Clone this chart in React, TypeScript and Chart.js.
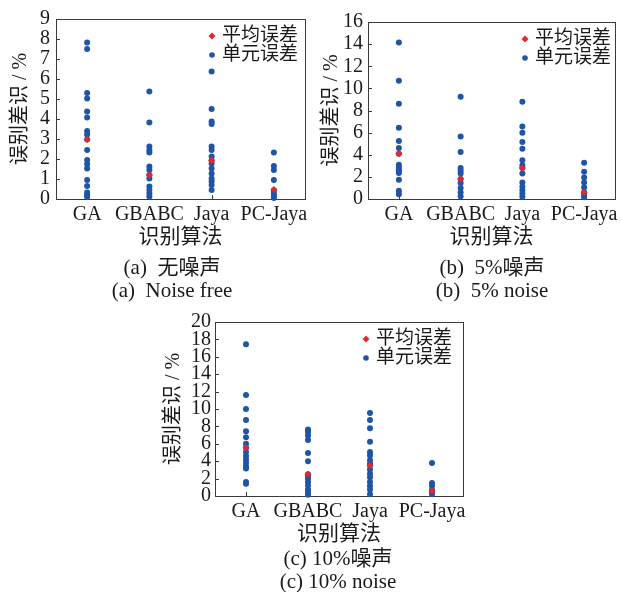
import React, { useEffect, useRef } from "react";
import { Chart, registerables } from "chart.js";

Chart.register(...registerables);

// ---------- data ----------
const categories = ["GA", "GBABC", "Jaya", "PC-Jaya"];
const legendLabels = ["平均误差", "单元误差"];
const yAxisTitle = "误别差识 / %";
const xAxisTitle = "识别算法";

// (a) noise free
const freeGA = [7.82, 7.5, 5.3, 5.03, 4.37, 4.08, 3.4, 3.22, 2.98, 2.45, 1.95, 1.75, 1.53, 0.95, 0.65, 0.32, 0.2, 0.1];
const freeGBABC = [5.37, 3.83, 2.62, 2.45, 2.32, 1.62, 1.45, 1.2, 1.03, 0.62, 0.45, 0.28, 0.12];
const freeJaya = [6.37, 4.5, 3.87, 3.75, 2.62, 2.45, 2.12, 1.92, 1.78, 1.53, 1.28, 1.03, 0.87, 0.7, 0.45];
const freePCJaya = [2.32, 1.65, 1.45, 0.95, 0.42, 0.28, 0.15, 0.05];
const freeMeans = [2.97, 1.2, 1.92, 0.48];
const freeTicks = { max: 9, step: 1 };

// (b) 5% noise
const n5GA = [14.15, 10.7, 8.6, 6.45, 5.25, 4.6, 4.1, 3.1, 2.9, 2.7, 2.5, 2.35, 1.75, 0.75, 0.42];
const n5GBABC = [9.25, 5.65, 4.25, 2.8, 2.55, 2.3, 1.8, 1.45, 1.0, 0.6, 0.25];
const n5Jaya = [8.8, 6.55, 6.0, 5.15, 4.55, 3.5, 3.05, 2.8, 2.3, 1.5, 1.1, 0.8, 0.5, 0.2];
const n5PCJaya = [3.28, 2.47, 1.95, 1.5, 1.05, 0.6, 0.36, 0.15];
const n5Means = [4.12, 1.8, 2.8, 0.62];
const n5Ticks = { max: 16, step: 2 };

// (c) 10% noise
const n10GA = [17.45, 11.6, 10.0, 8.75, 7.45, 6.75, 6.0, 5.55, 5.05, 4.6, 4.2, 3.8, 3.4, 3.15, 1.6, 1.4];
const n10GBABC = [7.65, 7.35, 6.95, 6.45, 4.95, 4.0, 2.5, 2.3, 2.0, 1.6, 1.2, 0.75, 0.45, 0.15];
const n10Jaya = [9.55, 8.75, 7.8, 6.25, 5.05, 4.65, 4.1, 3.7, 3.5, 3.05, 2.55, 2.15, 1.6, 1.15, 0.75, 0.2];
const n10PCJaya = [3.8, 1.5, 1.15, 0.65, 0.55, 0.2];
const n10Means = [5.55, 2.5, 3.5, 0.57];
const n10Ticks = { max: 20, step: 2 };

const captionsA = ["(a)  无噪声", "(a)  Noise free"];
const captionsB = ["(b)  5%噪声", "(b)  5% noise"];
const captionsC = ["(c) 10%噪声", "(c) 10% noise"];

// ---------- styles ----------
const FONT = "'Liberation Serif', 'Noto Sans CJK SC', serif";
const BLUE = "#1f55a8";
const RED = "#e8262a";
const INK = "#1a1a1a";
const FRAME = "#3a3a3a";

type Layout = {
  left: number; top: number; width: number; height: number;
  areaLeft: number; areaTop: number; areaRight: number; areaBottom: number;
  yTitlePad: number; xTitlePad: number; yTickPad: number; legendDx: number;
};

function makeFramePlugin() {
  return {
    id: "frameTicks",
    beforeDatasetsDraw(chart: any) {
      const { ctx, chartArea } = chart;
      const { left, top, right, bottom } = chartArea;
      ctx.save();
      ctx.strokeStyle = FRAME;
      ctx.lineWidth = 1;
      ctx.strokeRect(Math.round(left) + 0.5, Math.round(top) + 0.5, Math.round(right - left), Math.round(bottom - top));
      const ys = chart.scales.y;
      ctx.beginPath();
      ys.ticks.forEach((t: any) => {
        const py = Math.round(ys.getPixelForValue(t.value)) + 0.5;
        ctx.moveTo(left, py);
        ctx.lineTo(left + 4, py);
      });
      const xs = chart.scales.x;
      xs.ticks.forEach((_t: any, i: number) => {
        const px = Math.round(xs.getPixelForTick(i)) + 0.5;
        ctx.moveTo(px, bottom);
        ctx.lineTo(px, bottom - 4);
      });
      ctx.stroke();
      ctx.restore();
    },
  };
}

function makeLegendPlugin(dx: number) {
  return {
    id: "insideLegend",
    afterDraw(chart: any) {
      const { ctx, chartArea } = chart;
      const mx = chartArea.right - dx;
      const y1 = chartArea.top + 17;
      const y2 = chartArea.top + 36;
      ctx.save();
      ctx.fillStyle = RED;
      ctx.beginPath();
      ctx.moveTo(mx, y1 - 3.5);
      ctx.lineTo(mx + 3.5, y1);
      ctx.lineTo(mx, y1 + 3.5);
      ctx.lineTo(mx - 3.5, y1);
      ctx.closePath();
      ctx.fill();
      ctx.fillStyle = BLUE;
      ctx.beginPath();
      ctx.arc(mx, y2, 2.8, 0, Math.PI * 2);
      ctx.fill();
      ctx.fillStyle = INK;
      ctx.font = `19px ${FONT}`;
      ctx.textBaseline = "middle";
      ctx.textAlign = "left";
      ctx.fillText(legendLabels[0], mx + 10, y1);
      ctx.fillText(legendLabels[1], mx + 10, y2);
      ctx.restore();
    },
  };
}

function Panel({ units, means, ticks, lay }: { units: number[][]; means: number[]; ticks: { max: number; step: number }; lay: Layout }) {
  const ref = useRef<HTMLCanvasElement | null>(null);
  useEffect(() => {
    if (!ref.current) return;
    const unitPts = categories.flatMap((c, i) => units[i].map((v) => ({ x: c, y: v })));
    const meanPts = categories.map((c, i) => ({ x: c, y: means[i] }));
    const chart = new Chart(ref.current, {
      type: "scatter",
      data: {
        labels: categories,
        datasets: [
          { label: legendLabels[0], data: meanPts as any, pointStyle: "rectRot", pointRadius: 3.5, backgroundColor: RED, borderWidth: 0, clip: false as any },
          { label: legendLabels[1], data: unitPts as any, pointStyle: "circle", pointRadius: 3, backgroundColor: BLUE, borderWidth: 0, clip: false as any },
        ],
      },
      options: {
        animation: false,
        responsive: false,
        devicePixelRatio: 1,
        layout: { padding: { left: 0, top: lay.areaTop, right: lay.width - lay.areaRight, bottom: 0 } },
        plugins: { legend: { display: false }, tooltip: { enabled: false } },
        scales: {
          x: {
            type: "category",
            labels: categories,
            offset: true,
            grid: { display: false, drawTicks: false },
            border: { display: false },
            ticks: { autoSkip: false, maxRotation: 0, minRotation: 0, padding: 4, color: INK, font: { family: FONT, size: 20 } },
            title: { display: true, text: xAxisTitle, color: INK, font: { family: FONT, size: 21 }, padding: { top: 0, bottom: lay.xTitlePad } },
            afterFit: (s: any) => { s.height = lay.height - lay.areaBottom; s.paddingLeft = 0; s.paddingRight = 0; },
          } as any,
          y: {
            type: "linear",
            min: 0,
            max: ticks.max,
            grid: { display: false, drawTicks: false },
            border: { display: false },
            ticks: { stepSize: ticks.step, autoSkip: false, padding: lay.yTickPad, color: INK, font: { family: FONT, size: 20 } },
            title: { display: true, text: yAxisTitle, color: INK, font: { family: FONT, size: 20 }, padding: { top: lay.yTitlePad, bottom: 0 } },
            afterFit: (s: any) => { s.width = lay.areaLeft; s.paddingTop = 0; s.paddingBottom = 0; },
          } as any,
        },
      },
      plugins: [makeFramePlugin(), makeLegendPlugin(lay.legendDx)],
    });
    return () => chart.destroy();
  }, []);
  return (
    <canvas
      ref={ref}
      width={lay.width}
      height={lay.height}
      style={{ position: "absolute", left: lay.left, top: lay.top, width: lay.width, height: lay.height }}
    />
  );
}

function Caption({ text, cx, cy }: { text: string; cx: number; cy: number }) {
  return (
    <div
      style={{
        position: "absolute", left: cx - 120, top: cy - 12, width: 240, height: 24, lineHeight: "24px",
        textAlign: "center", fontFamily: FONT, fontSize: 21, color: INK, whiteSpace: "pre",
      }}
    >
      {text}
    </div>
  );
}

const layA: Layout = { left: 0, top: 0, width: 310, height: 262, areaLeft: 56, areaTop: 19, areaRight: 305, areaBottom: 199, yTitlePad: 9, xTitlePad: 12, yTickPad: 6, legendDx: 93 };
const layB: Layout = { left: 310, top: 0, width: 312, height: 262, areaLeft: 58, areaTop: 22, areaRight: 305, areaBottom: 199, yTitlePad: 10, xTitlePad: 12, yTickPad: 5, legendDx: 90 };
const layC: Layout = { left: 150, top: 300, width: 320, height: 262, areaLeft: 65, areaTop: 22, areaRight: 313, areaBottom: 196, yTitlePad: 12, xTitlePad: 15, yTickPad: 4, legendDx: 97 };

export default function App() {
  return (
    <div style={{ position: "absolute", left: 0, top: 0, width: 622, height: 592, background: "#fff", overflow: "hidden" }}>
      <Panel units={[freeGA, freeGBABC, freeJaya, freePCJaya]} means={freeMeans} ticks={freeTicks} lay={layA} />
      <Panel units={[n5GA, n5GBABC, n5Jaya, n5PCJaya]} means={n5Means} ticks={n5Ticks} lay={layB} />
      <Panel units={[n10GA, n10GBABC, n10Jaya, n10PCJaya]} means={n10Means} ticks={n10Ticks} lay={layC} />
      <Caption text={captionsA[0]} cx={172} cy={267} />
      <Caption text={captionsA[1]} cx={172} cy={290} />
      <Caption text={captionsB[0]} cx={492} cy={267} />
      <Caption text={captionsB[1]} cx={492} cy={290} />
      <Caption text={captionsC[0]} cx={338} cy={558} />
      <Caption text={captionsC[1]} cx={338} cy={581} />
    </div>
  );
}
